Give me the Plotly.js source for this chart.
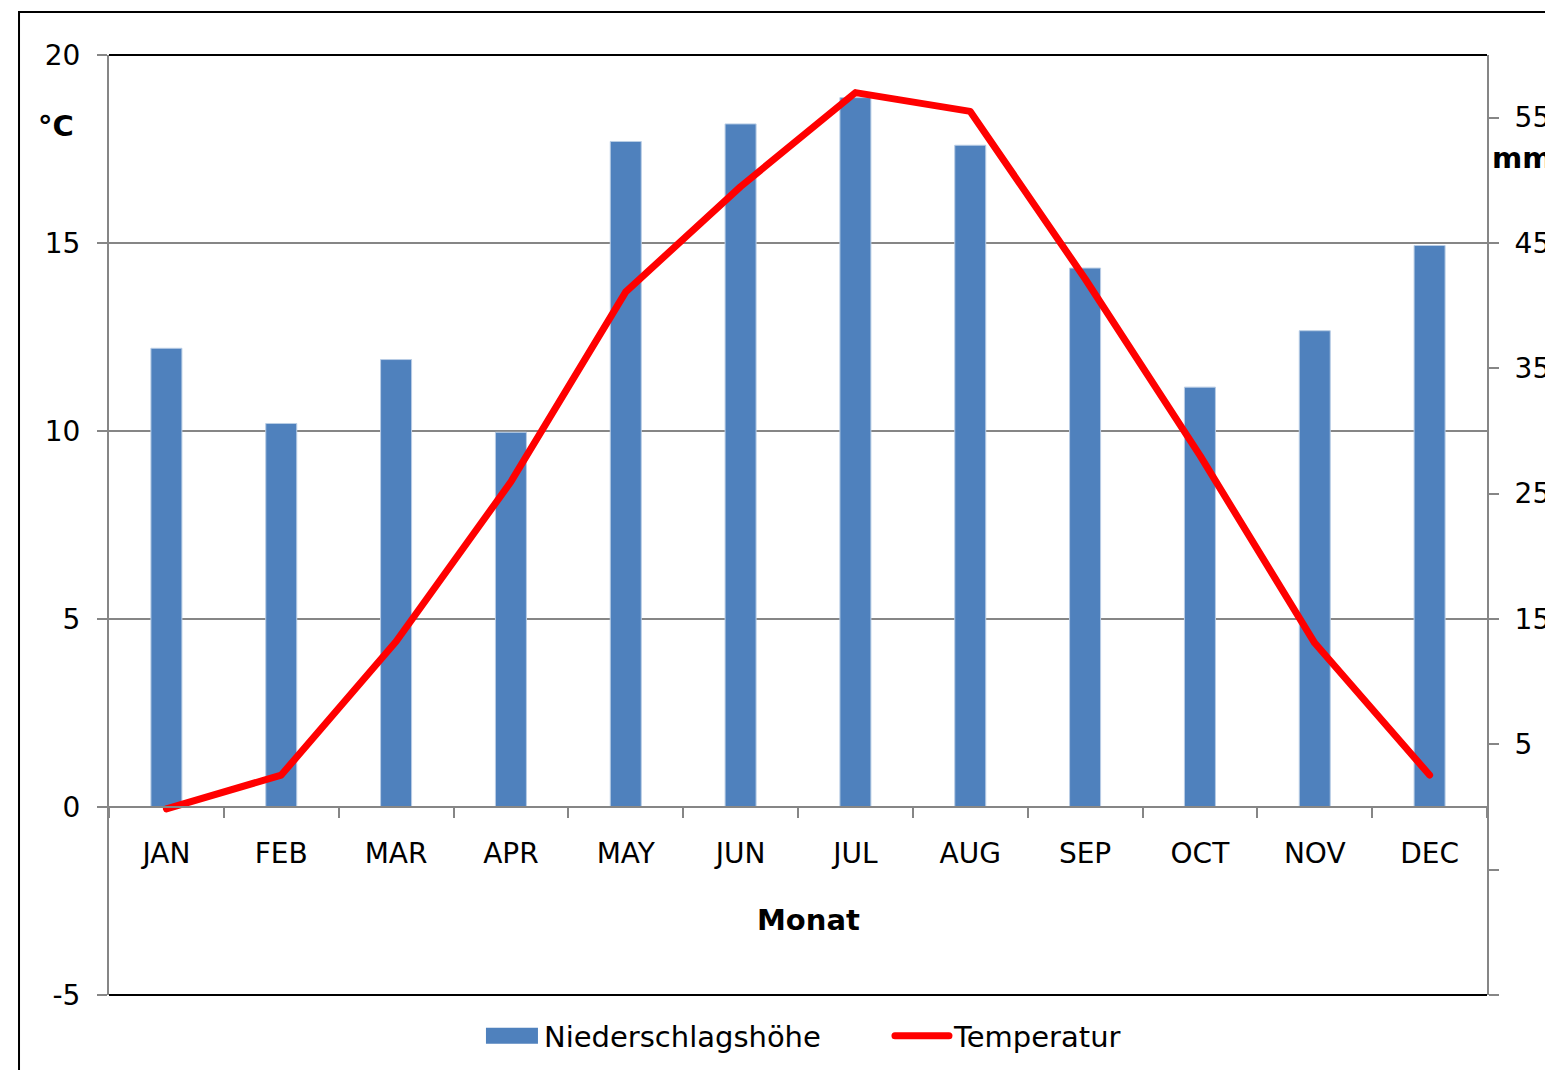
<!DOCTYPE html>
<html>
<head>
<meta charset="utf-8">
<script src="https://cdn.plot.ly/plotly-3.0.1.min.js"></script>
<style>
  html, body { margin: 0; padding: 0; background: #fff; }
  #chart { width: 1545px; height: 1070px; }
  .js-line { stroke-linecap: round; stroke-linejoin: round; }
</style>
</head>
<body>
<div id="chart"></div>
<script>
// Categories (x axis)
const months = ['JAN', 'FEB', 'MAR', 'APR', 'MAY', 'JUN', 'JUL', 'AUG', 'SEP', 'OCT', 'NOV', 'DEC'];
// Precipitation in mm (right axis)
const niederschlag = [36.6, 30.6, 35.7, 29.9, 53.1, 54.5, 56.6, 52.8, 43.0, 33.5, 38.0, 44.8];
// Temperature in °C (left axis)
const temperatur = [-0.05, 0.85, 4.4, 8.65, 13.7, 16.5, 19.0, 18.5, 14.05, 9.35, 4.36, 0.85];
// Axis tick values / labels
const tempTicks = [-5, 0, 5, 10, 15, 20];
const tempTickText = ['-5', '0', '5', '10', '15', '20'];
const mmTicks = [-15, -5, 5, 15, 25, 35, 45, 55];
const mmTickText = ['', '', '5', '15', '25', '35', '45', '55'];

const FONT = 'DejaVu Sans, Verdana, sans-serif';
const GRAY = '#868686';

const traces = [
  {
    type: 'bar',
    name: 'Niederschlagshöhe',
    x: months,
    y: niederschlag,
    yaxis: 'y',
    width: 0.27,
    marker: { color: '#4F81BD', line: { color: '#B9CDE5', width: 1 } },
    hoverinfo: 'x+y'
  },
  {
    type: 'scatter',
    mode: 'lines',
    name: 'Temperatur',
    x: months,
    y: temperatur,
    yaxis: 'y2',
    line: { color: '#FF0000', width: 7 },
    hoverinfo: 'x+y'
  }
];

const layout = {
  width: 1545,
  height: 1070,
  paper_bgcolor: '#ffffff',
  plot_bgcolor: '#ffffff',
  margin: { l: 109, r: 58, t: 55, b: 75 },
  font: { family: FONT, size: 28, color: '#000' },
  showlegend: true,
  legend: {
    orientation: 'h',
    xref: 'paper',
    x: 0.2692,
    xanchor: 'left',
    yref: 'container',
    y: 0.0318,
    yanchor: 'middle',
    font: { family: FONT, size: 29, color: '#000' },
    entrywidth: 341,
    entrywidthmode: 'pixels',
    itemwidth: 54,
    traceorder: 'normal',
    bgcolor: 'rgba(0,0,0,0)'
  },
  xaxis: {
    type: 'category',
    anchor: 'free',
    position: 0.2,
    showline: true,
    linecolor: GRAY,
    linewidth: 2,
    ticks: 'outside',
    tickson: 'boundaries',
    ticklen: 10,
    tickcolor: GRAY,
    tickwidth: 2,
    showgrid: false,
    zeroline: false,
    ticklabelstandoff: 21,
    tickfont: { family: FONT, size: 28, color: '#000' },
    automargin: false
  },
  // Right axis: mm (base axis so bars are drawn under the line)
  yaxis: {
    side: 'right',
    range: [-15, 60],
    tickmode: 'array',
    tickvals: mmTicks,
    ticktext: mmTickText,
    showline: true,
    linecolor: GRAY,
    linewidth: 2,
    ticks: 'outside',
    ticklen: 10,
    tickcolor: GRAY,
    tickwidth: 2,
    showgrid: false,
    zeroline: false,
    ticklabelstandoff: 10,
    tickfont: { family: FONT, size: 28, color: '#000' },
    automargin: false
  },
  // Left axis: °C
  yaxis2: {
    overlaying: 'y',
    side: 'left',
    range: [-5, 20],
    tickmode: 'array',
    tickvals: tempTicks,
    ticktext: tempTickText,
    showline: true,
    linecolor: GRAY,
    linewidth: 2,
    ticks: 'outside',
    ticklen: 10,
    tickcolor: GRAY,
    tickwidth: 2,
    showgrid: true,
    gridcolor: GRAY,
    gridwidth: 2,
    zeroline: false,
    ticklabelstandoff: 11,
    tickfont: { family: FONT, size: 28, color: '#000' },
    automargin: false
  },
  annotations: [
    { xref: 'paper', yref: 'paper', x: -0.0385, y: 0.924, xanchor: 'center', yanchor: 'middle',
      text: '°C', showarrow: false, font: { family: FONT, size: 29, color: '#000', weight: 'bold' } },
    { xref: 'paper', yref: 'paper', x: 1.002, y: 0.89, xanchor: 'left', yanchor: 'middle',
      text: 'mm', showarrow: false, font: { family: FONT, size: 29, color: '#000', weight: 'bold' } },
    { xref: 'paper', yref: 'paper', x: 0.5073, y: 0.0798, xanchor: 'center', yanchor: 'middle',
      text: 'Monat', showarrow: false, font: { family: FONT, size: 29, color: '#000', weight: 'bold' } }
  ],
  shapes: [
    // outer chart frame (extends past the right and bottom edges)
    { type: 'rect', xref: 'paper', yref: 'paper', x0: -0.0653, x1: 1.06, y0: -0.12, y1: 1.0457,
      line: { color: '#000', width: 2 }, fillcolor: 'rgba(0,0,0,0)', layer: 'below' },
    // plot area top and bottom borders
    { type: 'line', xref: 'paper', yref: 'paper', x0: 0, x1: 1, y0: 1, y1: 1, line: { color: '#000', width: 2 } },
    { type: 'line', xref: 'paper', yref: 'paper', x0: 0, x1: 1, y0: 0, y1: 0, line: { color: '#000', width: 2 } }
  ]
};

const gd = document.getElementById('chart');

// Widen the bar legend swatch into a flat rectangle like the original chart.
function styleLegendSwatch() {
  const items = gd.querySelectorAll('.legend .traces');
  if (!items.length) return;
  items[0].querySelectorAll('.legendpoints path').forEach(function (p) {
    p.setAttribute('d', 'M-26,-8H26V8H-26Z');
    p.style.strokeWidth = '0px';
  });
}

Plotly.newPlot(gd, traces, layout, { displayModeBar: false, staticPlot: true }).then(function () {
  styleLegendSwatch();
  gd.on('plotly_afterplot', styleLegendSwatch);
});
</script>
</body>
</html>
